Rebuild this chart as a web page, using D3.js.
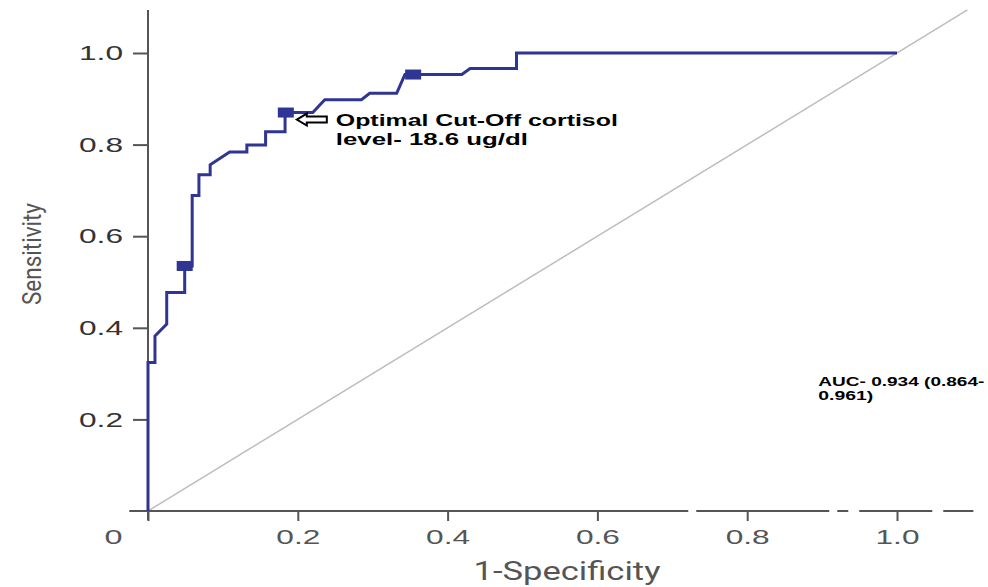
<!DOCTYPE html>
<html>
<head>
<meta charset="utf-8">
<script src="https://cdn.jsdelivr.net/npm/d3@7"></script>
<style>
  html, body { margin: 0; padding: 0; background: #fff; }
  svg { display: block; }
</style>
</head>
<body>
<svg width="988" height="587"></svg>
<script>
const width = 988, height = 587;
const svg = d3.select("svg");

// ROC curve points
const fpr = [0, 0, 0.0093, 0.0093, 0.025, 0.025, 0.049, 0.049, 0.059, 0.059, 0.068, 0.068, 0.083, 0.083,
    0.109, 0.132, 0.132, 0.157, 0.157, 0.183, 0.183, 0.22, 0.236, 0.285, 0.296, 0.332, 0.343, 0.419,
    0.43, 0.492, 0.492, 1.0];
const tpr = [0, 0.324, 0.324, 0.382, 0.408, 0.477, 0.477, 0.535, 0.535, 0.689, 0.689, 0.734, 0.734, 0.756,
    0.784, 0.784, 0.799, 0.799, 0.828, 0.828, 0.870, 0.870, 0.898, 0.898, 0.912, 0.912, 0.953, 0.953,
    0.966, 0.966, 1.0, 1.0];

// square markers on the curve
const markerFpr = [0.049, 0.184, 0.354];
const markerTpr = [0.535, 0.870, 0.953];

const tickValues = [0, 0.2, 0.4, 0.6, 0.8, 1.0];
const tickLabels = ["0", "0.2", "0.4", "0.6", "0.8", "1.0"];

const x = d3.scaleLinear().domain([0, 1]).range([148, 897]);
const y = d3.scaleLinear().domain([0, 1]).range([511, 53]);

const curveColor = "#2e3592";
const axisColor = "#555";

// reference diagonal
svg.append("line")
    .attr("x1", x(0)).attr("y1", y(0))
    .attr("x2", x(1.094)).attr("y2", y(1.094))
    .attr("stroke", "#bdbdbd").attr("stroke-width", 1.5);

// x axis line (with the small breaks seen near the right end)
svg.append("line")
    .attr("x1", x(-0.025)).attr("y1", y(0))
    .attr("x2", x(1.102)).attr("y2", y(0))
    .attr("stroke", axisColor).attr("stroke-width", 2)
    .attr("stroke-dasharray", "559 8 133 8 11 11 73 11 40");

// y axis line
svg.append("line")
    .attr("x1", x(0)).attr("y1", y(-0.02))
    .attr("x2", x(0)).attr("y2", y(1.094))
    .attr("stroke", axisColor).attr("stroke-width", 2);

// x ticks
const xAxis = svg.append("g")
    .attr("transform", `translate(0,${y(0)})`)
    .call(d3.axisBottom(x).tickValues(tickValues).tickSize(10).tickPadding(8)
        .tickFormat((d, i) => tickLabels[i]));
xAxis.select(".domain").remove();
xAxis.selectAll(".tick line").attr("stroke", axisColor).attr("stroke-width", 2);
xAxis.selectAll(".tick text")
    .style("font-family", "Liberation Sans, Arial, sans-serif")
    .style("font-size", "21px")
    .attr("fill", "#555")
    .attr("textLength", 44)
    .attr("lengthAdjust", "spacingAndGlyphs");
// the origin label sits left of the axis corner
xAxis.selectAll(".tick text").filter(d => d === 0)
    .attr("x", -35)
    .attr("textLength", 18);

// y ticks
const yAxis = svg.append("g")
    .attr("transform", `translate(${x(0)},0)`)
    .call(d3.axisLeft(y).tickValues(tickValues.slice(1)).tickSize(15).tickPadding(10)
        .tickFormat((d, i) => tickLabels[i + 1]));
yAxis.select(".domain").remove();
yAxis.selectAll(".tick line").attr("stroke", axisColor).attr("stroke-width", 2);
yAxis.selectAll(".tick text")
    .style("font-family", "Liberation Sans, Arial, sans-serif")
    .style("font-size", "21px")
    .attr("fill", "#333")
    .attr("textLength", 44)
    .attr("lengthAdjust", "spacingAndGlyphs");
// small tick at the origin
svg.append("line")
    .attr("x1", x(0) - 15).attr("y1", y(0))
    .attr("x2", x(0)).attr("y2", y(0))
    .attr("stroke", axisColor).attr("stroke-width", 2);

// axis titles
svg.append("text")
    .attr("x", 567).attr("y", 580)
    .attr("text-anchor", "middle")
    .style("font-family", "Roboto, sans-serif")
    .style("font-size", "25px")
    .attr("fill", "#555")
    .attr("textLength", 187)
    .attr("lengthAdjust", "spacingAndGlyphs")
    .text("1-Specificity");

svg.append("text")
    .attr("transform", "translate(41,254) rotate(-90)")
    .attr("text-anchor", "middle")
    .style("font-family", "Roboto, sans-serif")
    .style("font-size", "25px")
    .attr("fill", "#555")
    .attr("textLength", 102)
    .attr("lengthAdjust", "spacingAndGlyphs")
    .text("Sensitivity");

// ROC curve
const rocData = fpr.map((f, i) => ({ f, t: tpr[i] }));
svg.append("path")
    .datum(rocData)
    .attr("fill", "none")
    .attr("stroke", curveColor)
    .attr("stroke-width", 3)
    .attr("stroke-linejoin", "miter")
    .attr("d", d3.line().x(d => x(d.f)).y(d => y(d.t)));

svg.selectAll(".marker")
    .data(markerFpr.map((f, i) => ({ f, t: markerTpr[i] })))
    .enter().append("rect")
    .attr("class", "marker")
    .attr("x", d => x(d.f) - 8)
    .attr("y", d => y(d.t) - 5)
    .attr("width", 16)
    .attr("height", 10)
    .attr("fill", curveColor);

// annotation arrow + text for the optimal cut-off
const ax = x(markerFpr[1]) + 11, ay = y(markerTpr[1]) + 7;
svg.append("path")
    .attr("d", `M${ax},${ay} L${ax + 10},${ay - 6} L${ax + 10},${ay - 3} L${ax + 30},${ay - 3}
        L${ax + 30},${ay + 3} L${ax + 10},${ay + 3} L${ax + 10},${ay + 6} Z`)
    .attr("fill", "#fff")
    .attr("stroke", "#000")
    .attr("stroke-width", 2);

const noteLines = ["Optimal Cut-Off cortisol", "level- 18.6 ug/dl"];
const noteWidths = [282, 192];
svg.selectAll(".note")
    .data(noteLines)
    .enter().append("text")
    .attr("class", "note")
    .attr("x", ax + 39)
    .attr("y", (d, i) => ay + 6 + i * 19)
    .style("font-family", "Liberation Sans, Arial, sans-serif")
    .style("font-size", "17px")
    .style("font-weight", "bold")
    .attr("fill", "#000")
    .attr("textLength", (d, i) => noteWidths[i])
    .attr("lengthAdjust", "spacingAndGlyphs")
    .text(d => d);

// AUC text
const aucLines = ["AUC- 0.934 (0.864-", "0.961)"];
const aucWidths = [166, 55];
svg.selectAll(".auc")
    .data(aucLines)
    .enter().append("text")
    .attr("class", "auc")
    .attr("x", x(0.895))
    .attr("y", (d, i) => y(0.272) + i * 14)
    .style("font-family", "Liberation Sans, Arial, sans-serif")
    .style("font-size", "12.5px")
    .style("font-weight", "bold")
    .attr("fill", "#000")
    .attr("textLength", (d, i) => aucWidths[i])
    .attr("lengthAdjust", "spacingAndGlyphs")
    .text(d => d);
</script>
</body>
</html>
